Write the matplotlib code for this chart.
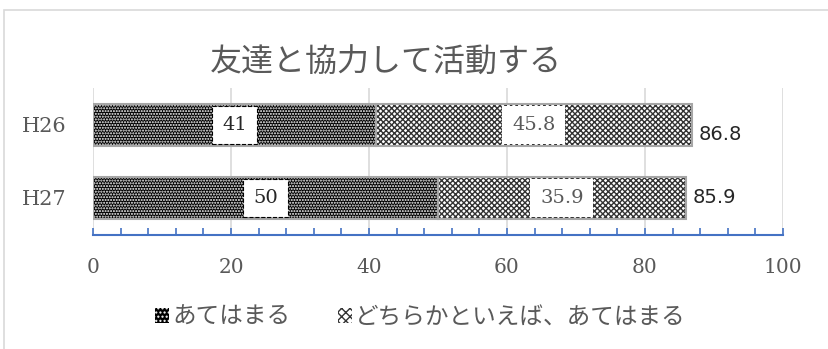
import matplotlib
matplotlib.use('Agg')
import matplotlib.pyplot as plt
from matplotlib.patches import Patch, Rectangle

# survey results (percent)
years = ['H27', 'H26']
agree = [50, 41]
somewhat = [35.9, 45.8]
totals = [85.9, 86.8]
series_names = ['あてはまる', 'どちらかといえば、あてはまる']
title = '友達と協力して活動する'

jp_font = ['Noto Sans CJK JP', 'DejaVu Sans']
num_font = ['DejaVu Serif']
grey = '#595959'
plt.rcParams['hatch.linewidth'] = 1.0

fig = plt.figure(figsize=(8.29, 3.49), dpi=100)
ax = fig.add_axes([0.1122, 0.327, 0.8323, 0.421])

# chart frame
fig.patches.append(Rectangle((4 / 829, -0.1), 1.2, 1 - 10 / 349 + 0.1, transform=fig.transFigure,
                             fill=False, edgecolor='#d9d9d9', lw=1.2, zorder=0))

ypos = range(len(years))
h = 0.575
# hatched fills, then grey outlines on top
ax.barh(ypos, agree, height=h, color='black', edgecolor='white', hatch='......', lw=0, zorder=2)
ax.barh(ypos, somewhat, left=agree, height=h, color='white', edgecolor='#333333', hatch='xxxxxx', lw=0, zorder=2)
ax.barh(ypos, agree, height=h, fill=False, edgecolor='#a6a6a6', lw=1.5, zorder=3)
ax.barh(ypos, somewhat, left=agree, height=h, fill=False, edgecolor='#a6a6a6', lw=1.5, zorder=3)

for i, y in enumerate(ypos):
    ax.text(agree[i] / 2, y, f'{agree[i]:g}', ha='center', va='center', fontsize=14,
            family=num_font, color='#262626', zorder=5,
            bbox=dict(boxstyle='square,pad=0.5', facecolor='white', edgecolor='black', linestyle='--', lw=0.8))
    ax.text(agree[i] + somewhat[i] / 2, y, f'{somewhat[i]:g}', ha='center', va='center', fontsize=14,
            family=num_font, color=grey, zorder=5,
            bbox=dict(boxstyle='square,pad=0.5', facecolor='white', edgecolor='white', lw=0))
    ax.text(totals[i] + 1, y - (0.13 if years[i] == 'H26' else 0), f'{totals[i]:g}', ha='left', va='center',
            fontsize=14, family='DejaVu Sans', color='#262626', zorder=5)

ax.set_xlim(0, 100)
ax.set_ylim(-0.507, 1.507)
ax.set_yticks(list(ypos))
ax.set_yticklabels(years, family=num_font, fontsize=15, color=grey)
ax.set_xticks(range(0, 101, 20))
ax.set_xticklabels([str(v) for v in range(0, 101, 20)], family=num_font, fontsize=14.5, color=grey)
ax.set_xticks(range(0, 101, 4), minor=True)
ax.tick_params(axis='x', which='both', direction='in', color='#4472c4', length=5, width=1.2, pad=17)
ax.tick_params(axis='y', length=0, pad=19)
ax.grid(axis='x', color='#d9d9d9', lw=1.2, zorder=0)
ax.set_axisbelow(True)
for side in ['top', 'right', 'left']:
    ax.spines[side].set_visible(False)
ax.spines['bottom'].set_color('#4472c4')
ax.spines['bottom'].set_linewidth(1.5)

fig.text(0.466, 0.82, title, ha='center', va='center', fontsize=23, family=jp_font, color=grey)

handles = [Patch(facecolor='black', edgecolor='white', hatch='....', lw=0),
           Patch(facecolor='white', edgecolor='#333333', hatch='xxxx', lw=0)]
leg = fig.legend(handles, series_names, loc='center', bbox_to_anchor=(0.507, 0.09), ncol=2, frameon=False,
                 prop={'family': jp_font, 'size': 17}, handlelength=0.6, handleheight=0.6,
                 handletextpad=0.15, columnspacing=2.0)
for t in leg.get_texts():
    t.set_color(grey)

fig.savefig('out.png', dpi=100)
